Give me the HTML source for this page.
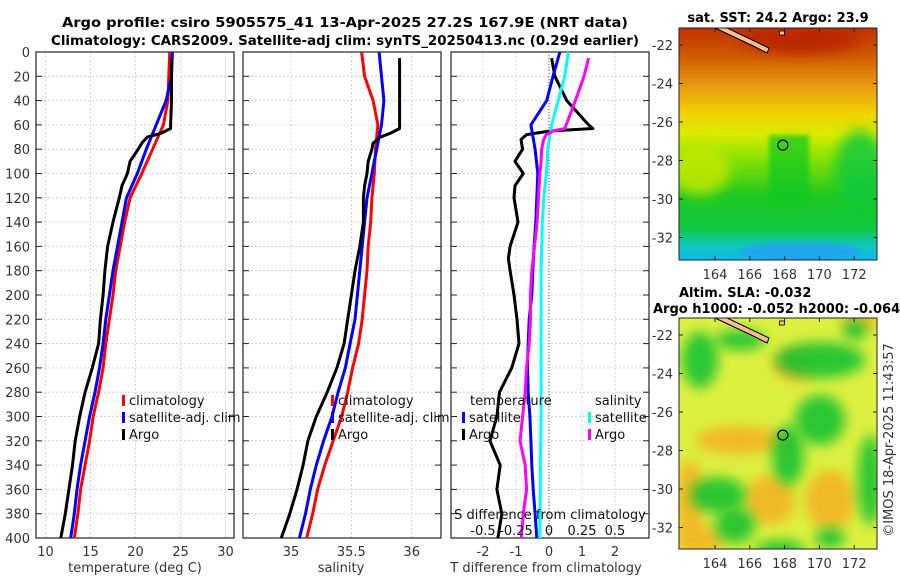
<!DOCTYPE html>
<html><head><meta charset="utf-8">
<style>
html,body{margin:0;padding:0;background:#fff;}
svg{display:block;font-family:"DejaVu Sans","Liberation Sans",sans-serif;}
</style></head>
<body>
<svg id="fig" width="900" height="580" viewBox="0 0 900 580" xmlns="http://www.w3.org/2000/svg">
<defs>
<filter id="blur6" x="-50%" y="-50%" width="200%" height="200%"><feGaussianBlur stdDeviation="6"/></filter>
<filter id="blur3"><feGaussianBlur stdDeviation="2"/></filter>
<linearGradient id="sstGrad" x1="0" y1="0" x2="0" y2="1">
<stop offset="0" stop-color="#c03200"/>
<stop offset="0.12" stop-color="#d05a00"/>
<stop offset="0.25" stop-color="#e89a10"/>
<stop offset="0.36" stop-color="#f0d000"/>
<stop offset="0.46" stop-color="#d8ec00"/>
<stop offset="0.55" stop-color="#90e400"/>
<stop offset="0.72" stop-color="#20c820"/>
<stop offset="0.86" stop-color="#10c840"/>
<stop offset="0.94" stop-color="#10c8c0"/>
<stop offset="1" stop-color="#10b8e8"/>
</linearGradient>
<clipPath id="clipTop"><rect x="679" y="28" width="198" height="232"/></clipPath>
<clipPath id="clipBot"><rect x="679" y="318" width="198" height="231"/></clipPath>
</defs>
<text x="345" y="27" text-anchor="middle" font-size="13" font-weight="bold" fill="#000" textLength="566" lengthAdjust="spacingAndGlyphs">Argo profile: csiro 5905575_41 13-Apr-2025 27.2S 167.9E (NRT data)</text>
<text x="345" y="45" text-anchor="middle" font-size="13" font-weight="bold" fill="#000" textLength="588" lengthAdjust="spacingAndGlyphs">Climatology: CARS2009. Satellite-adj clim: synTS_20250413.nc (0.29d earlier)</text>
<g id="panels"></g>
<g id="maps"></g>
<text transform="translate(893,440) rotate(-90)" text-anchor="middle" font-size="13" fill="#333">©IMOS 18-Apr-2025 11:43:57</text>
</svg>
<script>
// ---- data ----
const depthT = [0,20,40,60,80,100,120,140,160,180,200,220,240,260,280,300,320,340,360,380,400];
const tempClim = [23.8,23.7,23.6,23.1,21.9,20.7,19.4,18.8,18.3,17.8,17.5,17.1,16.7,16.4,15.9,15.3,14.9,14.4,13.9,13.6,13.2];
const tempSat  = [24.1,24.0,23.4,22.3,21.2,20.2,19.0,18.5,18.0,17.5,17.1,16.7,16.4,16.0,15.5,14.9,14.4,13.9,13.5,13.2,12.8];
const depthArgo = [5,20,40,60,63,67,70,75,80,90,100,110,120,140,160,180,200,220,240,260,280,300,320,340,360,380,400];
const tempArgo = [24.0,24.0,24.0,23.9,23.9,22.8,21.3,20.7,20.3,19.4,19.1,18.5,18.2,17.5,16.9,16.6,16.4,16.1,15.9,15.2,14.4,13.8,13.3,13.0,12.6,12.2,11.7];
const salClim = [35.585,35.61,35.68,35.72,35.70,35.69,35.67,35.66,35.64,35.63,35.61,35.59,35.56,35.51,35.47,35.42,35.35,35.28,35.22,35.18,35.13];
const salSat  = [35.73,35.75,35.77,35.75,35.71,35.67,35.63,35.61,35.59,35.57,35.55,35.53,35.49,35.45,35.39,35.34,35.27,35.21,35.16,35.12,35.07];
const salArgo = [35.90,35.90,35.90,35.90,35.90,35.82,35.74,35.68,35.67,35.64,35.63,35.61,35.60,35.60,35.57,35.53,35.50,35.47,35.44,35.38,35.30,35.21,35.14,35.10,35.05,34.99,34.92];
const depthD = [0,20,40,60,80,100,120,140,160,180,200,220,240,260,280,300,320,340,360,380,400];
const tDiffSat = [0.33,0.12,-0.07,-0.55,-0.42,-0.34,-0.37,-0.40,-0.45,-0.49,-0.52,-0.60,-0.63,-0.65,-0.63,-0.58,-0.55,-0.52,-0.48,-0.42,-0.37];
const sDiffSat = [0.146,0.12,0.07,0.02,-0.01,-0.02,-0.04,-0.05,-0.055,-0.06,-0.06,-0.06,-0.06,-0.06,-0.06,-0.06,-0.062,-0.065,-0.065,-0.068,-0.07];
const depthDA = [5,20,40,60,63,65,68,72,80,90,100,110,120,140,160,170,180,200,220,240,260,280,300,320,340,360,380,400];
const tDiffArgo = [0.08,0.18,0.54,1.2,1.33,0.03,-0.68,-0.85,-0.8,-1.03,-0.78,-1.03,-1.06,-0.94,-1.18,-1.23,-1.18,-1.06,-0.97,-0.91,-1.13,-1.5,-1.58,-1.79,-1.48,-1.58,-1.43,-1.55];
const sDiffArgo = [0.30,0.265,0.2,0.13,0.12,0.03,-0.02,-0.04,-0.055,-0.06,-0.07,-0.075,-0.08,-0.09,-0.11,-0.12,-0.13,-0.14,-0.14,-0.15,-0.17,-0.18,-0.2,-0.22,-0.18,-0.17,-0.195,-0.21];
const depthTicks = [0,20,40,60,80,100,120,140,160,180,200,220,240,260,280,300,320,340,360,380,400];
const tempTicks = [10,15,20,25,30];
const salTicks = [35,35.5,36];
const tDiffTicks = [-2,-1,0,1,2];
const sDiffTicks = [-0.5,-0.25,0,0.25,0.5];
const sDiffTickLabels = ["-0.5","-0.25","0","0.25","0.5"];
const argoLon = [167.9];
const argoLat = [-27.2];
const mapLonTicks = [164,166,168,170,172];
const mapLatTicks = [-22,-24,-26,-28,-30,-32];

const NS = "http://www.w3.org/2000/svg";
function mk(tag, attrs, parent, text){
  const e = document.createElementNS(NS, tag);
  for (const k in attrs) e.setAttribute(k, attrs[k]);
  if (text !== undefined) e.textContent = text;
  parent.appendChild(e);
  return e;
}
const top0 = 52, bot0 = 538;
const yD = d => top0 + d * (bot0 - top0) / 400;
const P1 = {l:36,r:234}, P2 = {l:243,r:441}, P3 = {l:451,r:649};
const xT = v => 45.5 + (v - 10) * 9;
const xS = v => 291 + (v - 35) * 120.7;
const xTD = v => 549 + v * 33;
const xSD = v => 549 + v * 132;
const panels = document.getElementById('panels');
const FS = 13;

function drawPanel(P, name, xTicks, xf, xLabels, showY){
  const g = mk('g', {}, panels);
  
  
  depthTicks.forEach(d => {
    const ln = mk('line', {x1:P.l, x2:P.r, y1:yD(d), y2:yD(d), stroke:'#c4c8e6', 'stroke-width':0.8, 'stroke-dasharray':'2,2'}, g);
    
    
    const t1 = mk('line', {x1:P.l, x2:P.l+6, y1:yD(d), y2:yD(d), stroke:'#222', 'stroke-width':1}, g);
    
    
    const t2 = mk('line', {x1:P.r-6, x2:P.r, y1:yD(d), y2:yD(d), stroke:'#222', 'stroke-width':1}, g);
    
    
    if (showY){
      const tl = mk('text', {x:P.l-6, y:yD(d)+5, 'text-anchor':'end', 'font-size':FS, fill:'#333'}, g, String(d));
      
      
    }
  });
  xTicks.forEach((v,i) => {
    const ln = mk('line', {x1:xf(v), x2:xf(v), y1:top0, y2:bot0, stroke:'#c4c8e6', 'stroke-width':0.8, 'stroke-dasharray':'2,2'}, g);
    
    
    const tl = mk('text', {x:xf(v), y:556, 'text-anchor':'middle', 'font-size':FS, fill:'#333'}, g, xLabels[i]);
    
    
  });
  const fr = mk('rect', {x:P.l, y:top0, width:P.r-P.l, height:bot0-top0, fill:'none', stroke:'#222', 'stroke-width':1.2}, g);
  
  
  return g;
}
function line(g, xs, ds, xf, color, name, w){
  const pts = xs.map((v,i) => xf(v).toFixed(1) + ',' + yD(ds[i]).toFixed(1)).join(' ');
  const pl = mk('polyline', {points:pts, fill:'none', stroke:color, 'stroke-width':w||3, 'stroke-linejoin':'round'}, g);
  
  
}
function legend(g, x, y, color, label, name){
  const m = mk('rect', {x:x, y:y-10, width:3, height:11, fill:color}, g);
  
  
  const t = mk('text', {x:x+7, y:y, 'font-size':FS, fill:'#111'}, g, label);
  
  
}

const g1 = drawPanel(P1, 'temperature-panel', tempTicks, xT, tempTicks.map(String), true);
line(g1, tempClim, depthT, xT, '#ff0000', 'temp-climatology-line');
line(g1, tempSat, depthT, xT, '#0000ff', 'temp-satellite-line');
line(g1, tempArgo, depthArgo, xT, '#000000', 'temp-argo-line');
legend(g1, 122, 405, '#ff0000', 'climatology', 'legend-climatology');
legend(g1, 122, 422, '#0000ff', 'satellite-adj. clim', 'legend-satellite-adj-clim');
legend(g1, 122, 439, '#000000', 'Argo', 'legend-argo');
const xl1 = mk('text', {x:135, y:572, 'text-anchor':'middle', 'font-size':FS, fill:'#333'}, g1, 'temperature (deg C)');



const g2 = drawPanel(P2, 'salinity-panel', salTicks, xS, ['35','35.5','36'], false);
line(g2, salClim, depthT, xS, '#ff0000', 'sal-climatology-line');
line(g2, salSat, depthT, xS, '#0000ff', 'sal-satellite-line');
line(g2, salArgo, depthArgo, xS, '#000000', 'sal-argo-line');
legend(g2, 331, 405, '#ff0000', 'climatology', 'legend-climatology');
legend(g2, 331, 422, '#0000ff', 'satellite-adj. clim', 'legend-satellite-adj-clim');
legend(g2, 331, 439, '#000000', 'Argo', 'legend-argo');
const xl2 = mk('text', {x:341, y:572, 'text-anchor':'middle', 'font-size':FS, fill:'#333'}, g2, 'salinity');



const g3 = drawPanel(P3, 'difference-panel', tDiffTicks, xTD, tDiffTicks.map(String), false);
const zl = mk('line', {x1:549, x2:549, y1:top0, y2:bot0, stroke:'#555', 'stroke-width':1, 'stroke-dasharray':'1,2'}, g3);


line(g3, tDiffArgo, depthDA, xTD, '#000000', 'tdiff-argo-line');
line(g3, tDiffSat, depthD, xTD, '#0000ff', 'tdiff-satellite-line');
line(g3, sDiffSat, depthD, xSD, '#00ffff', 'sdiff-satellite-line');
line(g3, sDiffArgo, depthDA, xSD, '#ff00ff', 'sdiff-argo-line');
const lt = mk('text', {x:470, y:405, 'font-size':FS, fill:'#111'}, g3, 'temperature');


legend(g3, 462, 422, '#0000ff', 'satellite', 'legend-t-satellite');
legend(g3, 462, 439, '#000000', 'Argo', 'legend-t-argo');
const ls = mk('text', {x:595, y:405, 'font-size':FS, fill:'#111'}, g3, 'salinity');


legend(g3, 588, 422, '#00ffff', 'satellite', 'legend-s-satellite');
legend(g3, 588, 439, '#ff00ff', 'Argo', 'legend-s-argo');
const sdt = mk('text', {x:550, y:519, 'text-anchor':'middle', 'font-size':FS, fill:'#111'}, g3, 'S difference from climatology');


sDiffTicks.forEach((v,i) => {
  const t = mk('text', {x:xSD(v), y:535, 'text-anchor':'middle', 'font-size':FS, fill:'#111'}, g3, sDiffTickLabels[i]);
  
  
});
const xl3 = mk('text', {x:546, y:572, 'text-anchor':'middle', 'font-size':FS, fill:'#333'}, g3, 'T difference from climatology');



// ---- maps ----
const maps = document.getElementById('maps');
function mapAxes(g, top, bottom, name){
  const xL = lon => 715 + (lon - 164) * 17.4;
  const yL = lat => top + 17 + (-22 - lat) * 19.25;
  mapLatTicks.forEach(lat => {
    const t = mk('text', {x:673, y:yL(lat)+5, 'text-anchor':'end', 'font-size':FS, fill:'#333'}, g, String(lat));
    
    
    mk('line', {x1:679, x2:683, y1:yL(lat), y2:yL(lat), stroke:'#222'}, g);
    mk('line', {x1:873, x2:877, y1:yL(lat), y2:yL(lat), stroke:'#222'}, g);
  });
  mapLonTicks.forEach(lon => {
    const t = mk('text', {x:xL(lon), y:bottom+19, 'text-anchor':'middle', 'font-size':FS, fill:'#333'}, g, String(lon));
    
    
    mk('line', {x1:xL(lon), x2:xL(lon), y1:bottom-4, y2:bottom, stroke:'#222'}, g);
    mk('line', {x1:xL(lon), x2:xL(lon), y1:top, y2:top+4, stroke:'#222'}, g);
  });
  const c = mk('polygon', {points:`${xL(164.7)},${top} ${xL(164.0)},${top} ${xL(166.2)},${top+18} ${xL(167.0)},${top+25} ${xL(167.1)},${top+20}`, fill:'#f8c090', stroke:'#000', 'stroke-width':1}, g);
  
  
  mk('rect', {x:xL(167.7), y:top+3, width:5, height:4, fill:'#f8c090', stroke:'#000', 'stroke-width':0.8}, g);
  argoLon.forEach((lon,i) => {
    const ci = mk('circle', {cx:xL(lon), cy:yL(argoLat[i]), r:5, fill:'none', stroke:'#000', 'stroke-width':1.2}, g);
    
    
  });
  const f = mk('rect', {x:679, y:top, width:198, height:bottom-top, fill:'none', stroke:'#222', 'stroke-width':1}, g);
  
  
}
const gm1 = mk('g', {}, maps);


const cl1 = mk('g', {'clip-path':'url(#clipTop)'}, gm1);
mk('rect', {x:679, y:28, width:198, height:232, fill:'url(#sstGrad)'}, cl1);
mk('ellipse', {cx:800, cy:40, rx:60, ry:14, fill:'#b82000', filter:'url(#blur6)', opacity:0.8}, cl1);
mk('ellipse', {cx:700, cy:170, rx:30, ry:25, fill:'#c8e800', filter:'url(#blur6)', opacity:0.8}, cl1);
mk('rect', {x:769, y:135, width:40, height:70, fill:'#10c820', opacity:0.7, filter:'url(#blur3)'}, cl1);
mk('ellipse', {cx:860, cy:170, rx:25, ry:40, fill:'#10c840', filter:'url(#blur6)', opacity:0.8}, cl1);
mk('ellipse', {cx:800, cy:252, rx:60, ry:10, fill:'#20a0f0', filter:'url(#blur3)', opacity:0.8}, cl1);
mapAxes(gm1, 28, 260, 'sst-map');
const mt1 = mk('text', {x:778, y:22, 'text-anchor':'middle', 'font-size':13, 'font-weight':'bold', fill:'#000'}, gm1, 'sat. SST: 24.2 Argo: 23.9');



const gm2 = mk('g', {}, maps);


const cl2 = mk('g', {'clip-path':'url(#clipBot)'}, gm2);
mk('rect', {x:679, y:318, width:198, height:231, fill:'#dcf040'}, cl2);
const orange = [[740,440,45,14],[795,365,22,16],[690,500,14,40],[700,540,25,14],[830,500,25,30],[770,500,25,25],[860,320,20,10]];
orange.forEach(o => mk('ellipse', {cx:o[0], cy:o[1], rx:o[2], ry:o[3], fill:'#f4b020', filter:'url(#blur6)', opacity:0.85}, cl2));
const green = [[700,360,18,28],[820,360,45,18],[820,420,25,25],[788,455,16,30],[718,495,28,18],[735,525,20,18],[780,550,25,10],[830,538,15,10],[870,480,12,45],[740,340,25,10],[855,330,12,10]];
green.forEach(o => mk('ellipse', {cx:o[0], cy:o[1], rx:o[2], ry:o[3], fill:'#10c030', filter:'url(#blur6)', opacity:0.85}, cl2));
mapAxes(gm2, 318, 549, 'sla-map');
const mt2 = mk('text', {x:679, y:297, 'font-size':13, 'font-weight':'bold', fill:'#000'}, gm2, 'Altim. SLA: -0.032');


const mt3 = mk('text', {x:653, y:313, 'font-size':13, 'font-weight':'bold', fill:'#000'}, gm2, 'Argo h1000: -0.052 h2000: -0.064');


</script>
</body></html>
